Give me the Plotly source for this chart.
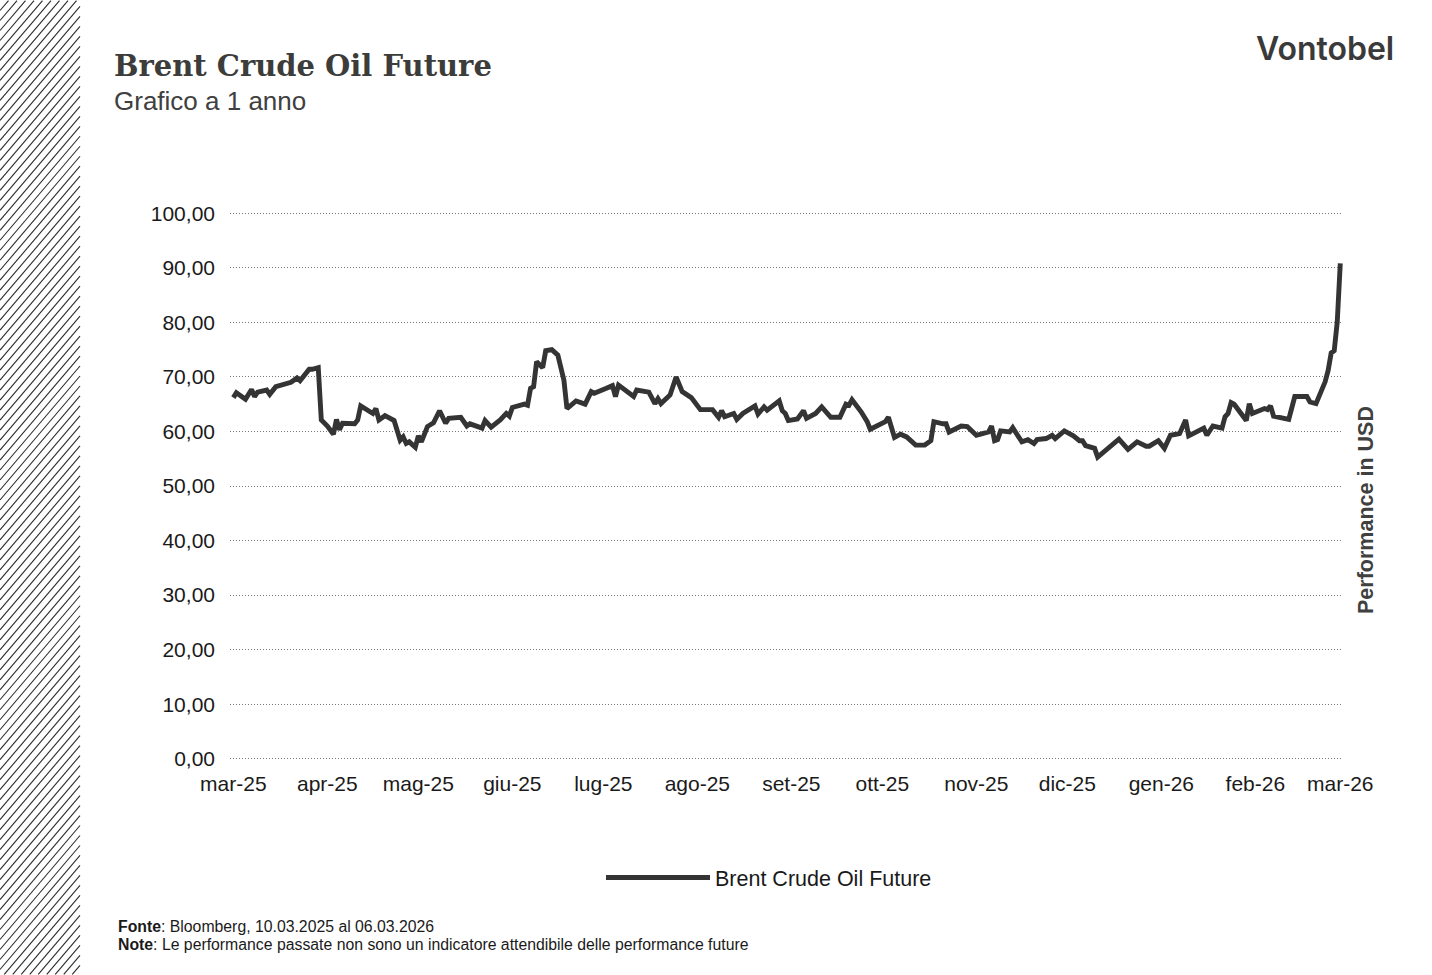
import pandas as pd
import plotly.graph_objects as go

# ---------------- data ----------------
start_date = "2025-03-10"
# days since 10.03.2025
days = [0, 1, 4, 6, 7, 8, 11, 12, 14, 15, 18, 19, 21, 22, 25, 26, 28, 29, 31, 33,
        34, 35, 36, 40, 41, 42, 46, 47, 48, 50, 53, 55, 56, 57, 58, 60, 61, 62, 64, 66,
        68, 70, 71, 75, 77, 78, 82, 83, 85, 88, 90, 91, 92, 96, 97, 98, 99, 100, 102, 103,
        105, 107, 109, 110, 113, 116, 118, 119, 123, 125, 126, 127, 132, 133, 137, 139, 140, 141, 144, 146,
        148, 151, 154, 158, 160, 161, 162, 165, 166, 168, 172, 173, 175, 176, 180, 181, 182, 183, 186, 188,
        189, 192, 194, 195, 197, 200, 202, 203, 204, 207, 209, 210, 213, 215, 216, 218, 220, 222, 225, 228,
        230, 231, 234, 235, 236, 240, 242, 245, 247, 249, 250, 251, 252, 253, 256, 257, 258, 260, 262, 264,
        265, 268, 270, 271, 274, 277, 279, 280, 281, 284, 285, 288, 290, 292, 295, 298, 301, 302, 305, 307,
        309, 312, 314, 315, 320, 321, 323, 326, 327, 328, 329, 330, 334, 335, 336, 340, 341, 342, 343, 348,
        350, 354, 355, 357, 360, 361, 362, 363, 364, 365]
brent = [66.2, 67.1, 65.9, 67.7, 66.4, 67.2, 67.6, 66.8, 68.2, 68.4, 69.0, 69.0, 69.8, 69.3, 71.4, 71.4, 71.7, 62.1, 61.0, 59.5,
         62.2, 60.3, 61.5, 61.4, 62.1, 64.7, 63.3, 64.2, 62.1, 62.9, 62.0, 58.4, 59.0, 57.8, 58.1, 57.1, 59.2, 58.1, 60.9, 61.6,
         63.8, 61.5, 62.4, 62.6, 61.0, 61.4, 60.6, 62.0, 60.8, 62.1, 63.3, 62.8, 64.4, 65.0, 64.8, 67.9, 68.2, 72.8, 71.7, 74.8,
         75.0, 74.0, 69.4, 64.2, 65.6, 65.0, 67.3, 67.0, 67.9, 68.4, 66.4, 68.5, 66.4, 67.6, 67.2, 65.1, 66.0, 65.1, 66.7, 70.0,
         67.3, 66.2, 64.0, 64.0, 62.6, 63.8, 62.7, 63.3, 62.2, 63.3, 64.7, 63.2, 64.5, 63.9, 65.6, 63.8, 63.3, 62.0, 62.3, 63.8,
         62.4, 63.3, 64.5, 63.9, 62.6, 62.6, 65.0, 64.8, 65.8, 63.6, 61.8, 60.4, 61.2, 61.8, 62.6, 58.9, 59.5, 59.0, 57.5, 57.5,
         58.3, 61.8, 61.4, 61.4, 59.9, 61.0, 60.9, 59.3, 59.6, 59.9, 61.0, 58.3, 58.5, 60.1, 59.9, 60.7, 59.8, 58.1, 58.5, 57.8,
         58.5, 58.7, 59.3, 58.7, 60.1, 59.2, 58.3, 58.3, 57.4, 56.9, 55.3, 56.6, 57.7, 58.6, 56.7, 58.1, 57.3, 57.3, 58.3, 56.9,
         59.3, 59.6, 62.1, 59.2, 60.6, 59.3, 61.0, 60.6, 62.7, 63.3, 65.3, 65.0, 62.0, 65.1, 63.3, 64.2, 64.0, 64.7, 62.8, 62.2,
         66.4, 66.4, 65.4, 65.1, 69.1, 71.2, 74.4, 74.8, 80.1, 90.8]

tick_dates = ["2025-03-10", "2025-04-10", "2025-05-10", "2025-06-10", "2025-07-10", "2025-08-10",
              "2025-09-10", "2025-10-10", "2025-11-10", "2025-12-10", "2026-01-10", "2026-02-10", "2026-03-10"]
tick_labels = ["mar-25", "apr-25", "mag-25", "giu-25", "lug-25", "ago-25",
               "set-25", "ott-25", "nov-25", "dic-25", "gen-26", "feb-26", "mar-26"]
y_ticks = [0, 10, 20, 30, 40, 50, 60, 70, 80, 90, 100]

series_name = "Brent Crude Oil Future"

dates = pd.Timestamp(start_date) + pd.to_timedelta(days, unit="D")

# ---------------- layout geometry ----------------
W, H = 1432, 975
L, R, T, B = 230, 89, 209.7, 212.7
PW, PH = W - L - R, H - T - B
Y0, Y1 = -0.6, 100.6

def px2paper(x, y):
    return (x - L) / PW, (H - B - y) / PH

fig = go.Figure()
fig.add_trace(go.Scatter(
    x=dates, y=brent, mode="lines", name=series_name,
    line=dict(color="#333433", width=4.9),
))

# hatch stripe on the left
shapes = []
s = 0.85
step = 8.5
c = -s * H
while c < 80:
    if c >= 0:
        x0, y0 = c, H
    else:
        x0, y0 = 0, H + c / s
    xt = c + s * H
    if xt <= 80:
        x1, y1 = xt, 0
    else:
        x1, y1 = 80, H - (80 - c) / s
    p0 = px2paper(x0, y0)
    p1 = px2paper(x1, y1)
    shapes.append(dict(type="line", xref="paper", yref="paper",
                       x0=p0[0], y0=p0[1], x1=p1[0], y1=p1[1],
                       line=dict(color="#2b2b2b", width=1.1)))
    c += step

def ann(x, y, text, size, color="#1a1a1a", family="Liberation Sans, Arial", xanchor="left",
        yanchor="middle", angle=0, weight=None):
    px, py = px2paper(x, y)
    f = dict(size=size, color=color, family=family)
    if weight:
        f["weight"] = weight
    return dict(x=px, y=py, xref="paper", yref="paper", text=text, showarrow=False,
                xanchor=xanchor, yanchor=yanchor, textangle=angle, font=f)

annotations = [
    ann(112, 66, "<b>Brent Crude Oil Future</b>", 29, color="#3c3c3a", family="DejaVu Serif"),
    ann(112, 101, "Grafico a 1 anno", 26, color="#404040"),
    ann(1396, 48, "Vontobel", 32, color="#3a3a3a", family="Inter", xanchor="right", weight=600),
    ann(1366, 510, "<b>Performance in USD</b>", 21.5, color="#404040", angle=-90, xanchor="center"),
    ann(116, 927, "<b>Fonte</b>: Bloomberg, 10.03.2025 al 06.03.2026", 15.8),
    ann(116, 945, "<b>Note</b>: Le performance passate non sono un indicatore attendibile delle performance future", 15.8),
]

fig.update_layout(
    width=W, height=H,
    margin=dict(l=L, r=R, t=T, b=B, autoexpand=False),
    paper_bgcolor="white", plot_bgcolor="white",
    separators=",.",
    font=dict(family="Liberation Sans, Arial", size=21, color="#1a1a1a"),
    xaxis=dict(type="date",
               range=["2025-03-08 21:30", "2026-03-10 21:30"],
               tickvals=tick_dates, ticktext=tick_labels,
               showgrid=False, zeroline=False, showline=False, ticks="",
               ticklabelstandoff=7,
               tickfont=dict(size=21, color="#1a1a1a")),
    yaxis=dict(range=[Y0, Y1], tickvals=y_ticks, tickformat=".2f",
               showgrid=True, gridcolor="#7a7a7a", griddash="1px,2px", gridwidth=1,
               zeroline=False, showline=False, ticks="",
               ticklabelstandoff=14,
               tickfont=dict(size=21, color="#1a1a1a")),
    showlegend=True,
    legend=dict(orientation="h", x=px2paper(601, 0)[0], xanchor="left",
                y=px2paper(0, 878)[1], yanchor="middle", itemwidth=104,
                font=dict(size=21.5, color="#1a1a1a"), bgcolor="rgba(0,0,0,0)"),
    shapes=shapes,
    annotations=annotations,
)

fig.write_html("out.html", config={"displayModeBar": False},
               post_script="document.body.style.margin='0';document.body.style.overflow='hidden';")
